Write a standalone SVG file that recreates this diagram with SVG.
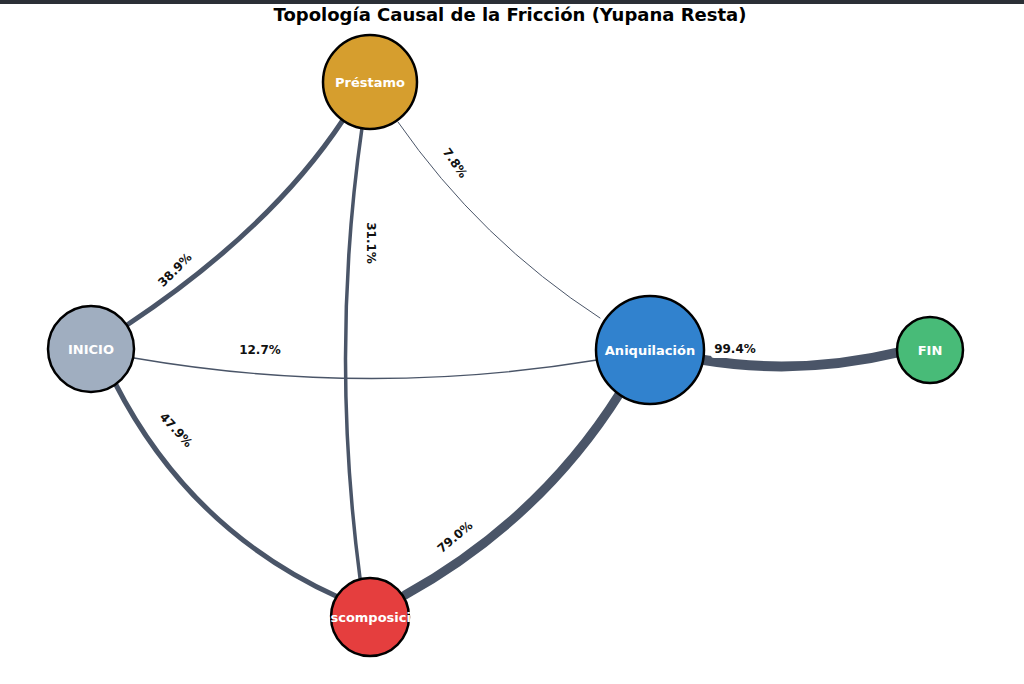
<svg xmlns="http://www.w3.org/2000/svg" width="1024" height="684" viewBox="0 0 1024 684">
<style>
.e{fill:none;stroke:#4a5568;stroke-linecap:round}
.n{stroke:#000;stroke-width:2.5}
.t{font-family:"DejaVu Sans",sans-serif;font-weight:bold;font-size:13px;fill:#fff;text-anchor:middle;dominant-baseline:central}
.l{font-family:"DejaVu Sans",sans-serif;font-weight:bold;font-size:12px;fill:#111;text-anchor:middle;dominant-baseline:central}
</style>
<rect width="1024" height="684" fill="#fff"/>
<rect width="1024" height="4" fill="#2b2f36"/>
<text x="510" y="14" font-family="'DejaVu Sans',sans-serif" font-weight="bold" font-size="18" text-anchor="middle" dominant-baseline="central" fill="#000">Topología Causal de la Fricción (Yupana Resta)</text>
<g id="connectors">
<path class="e" stroke-width="5" d="M127,325 Q270,230 343,120"/>
<path class="e" stroke-width="3.5" d="M362,128 Q330,350 360,578"/>
<path class="e" stroke-width="1" d="M398,122 Q480,240 600,318"/>
<path class="e" stroke-width="1.3" d="M134,358 Q366,398 597,360"/>
<path class="e" stroke-width="5" d="M115,383 Q190,530 338,597"/>
<path class="e" stroke-width="9" d="M405,595 Q540,520 620,393"/>
<path class="e" stroke-width="10" d="M704,360 Q800,376 900,352"/>
<text class="l" transform="translate(175,270) rotate(-45)">38.9%</text>
<text class="l" transform="translate(371,243) rotate(90)">31.1%</text>
<text class="l" transform="translate(455,163) rotate(55)">7.8%</text>
<text class="l" x="260" y="350">12.7%</text>
<text class="l" transform="translate(176,430) rotate(47)">47.9%</text>
<text class="l" transform="translate(455,537) rotate(-40)">79.0%</text>
<rect x="711" y="341" width="48" height="17" rx="3" fill="#fff"/>
<text class="l" x="735" y="349">99.4%</text>
</g>
<g id="prestamo"><circle class="n" cx="370" cy="82" r="47" fill="#d69e2e"/><text class="t" x="370" y="82">Préstamo</text></g>
<g id="inicio"><circle class="n" cx="91" cy="349" r="43" fill="#a0aec0"/><text class="t" x="91" y="349">INICIO</text></g>
<g id="aniquilacion"><circle class="n" cx="650" cy="350" r="54" fill="#3182ce"/><text class="t" x="650" y="350">Aniquilación</text></g>
<g id="fin"><circle class="n" cx="930" cy="350" r="33" fill="#48bb78"/><text class="t" x="930" y="350">FIN</text></g>
<g id="descomposicion"><circle class="n" cx="370" cy="617" r="39" fill="#e53e3e"/><text class="t" x="370" y="617">Descomposición</text></g>
</svg>
